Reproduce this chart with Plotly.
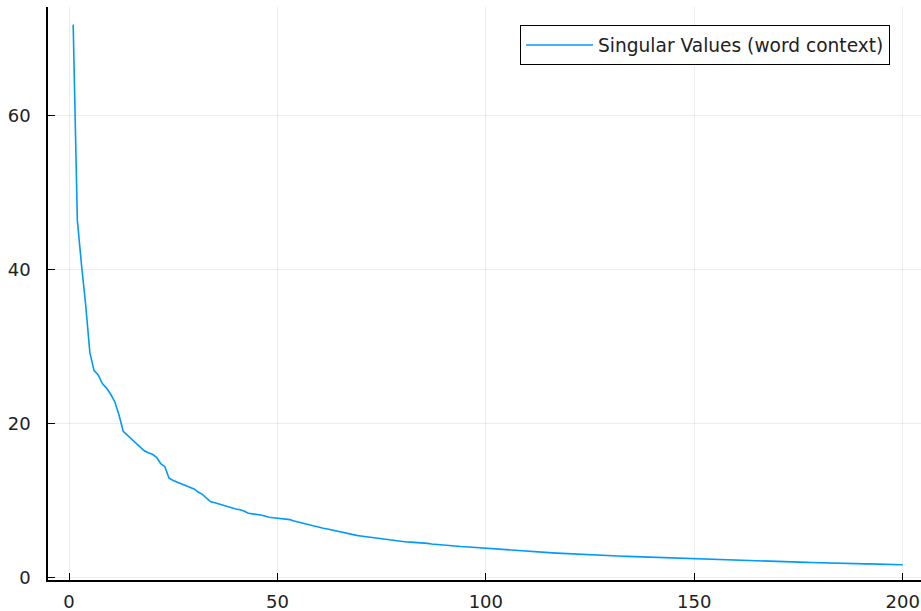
import plotly.graph_objects as go

# Singular values, index 1..200
sv_index = list(range(1, 201))
sv_values = [
    71.8, 46.4, 40.6, 35.4, 29.2, 26.9, 26.3, 25.2, 24.6, 23.8,
    22.8, 21.1, 19.0, 18.5, 17.9, 17.4, 16.9, 16.5, 16.2, 16.0,
    15.6, 14.8, 14.4, 12.9, 12.6, 12.4, 12.1, 11.9, 11.8, 11.5,
    11.1, 10.8, 10.3, 9.84, 9.71, 9.55, 9.38, 9.19, 9.06, 8.90,
    8.81, 8.64, 8.34, 8.29, 8.25, 8.12, 7.99, 7.82, 7.77, 7.73,
    7.64, 7.60, 7.52, 7.35, 7.20, 7.10, 6.98, 6.85, 6.66, 6.50,
    6.40, 6.30, 6.18, 6.05, 5.90, 5.80, 5.72, 5.60, 5.48, 5.40,
    5.33, 5.26, 5.18, 5.08, 5.00, 4.95, 4.88, 4.80, 4.70, 4.65,
    4.62, 4.60, 4.57, 4.55, 4.52, 4.44, 4.36, 4.30, 4.24, 4.18,
    4.15, 4.11, 4.07, 4.03, 4.00, 3.96, 3.92, 3.88, 3.83, 3.79,
    3.75, 3.71, 3.67, 3.63, 3.58, 3.54, 3.50, 3.45, 3.40, 3.35,
    3.32, 3.30, 3.28, 3.25, 3.22, 3.20, 3.17, 3.14, 3.11, 3.09,
    3.06, 3.04, 3.01, 2.98, 2.96, 2.94, 2.91, 2.88, 2.86, 2.83,
    2.81, 2.79, 2.77, 2.75, 2.73, 2.71, 2.69, 2.66, 2.64, 2.62,
    2.60, 2.58, 2.56, 2.53, 2.51, 2.49, 2.47, 2.45, 2.42, 2.40,
    2.39, 2.37, 2.36, 2.35, 2.34, 2.32, 2.31, 2.30, 2.28, 2.27,
    2.25, 2.24, 2.22, 2.20, 2.19, 2.17, 2.15, 2.13, 2.12, 2.10,
    2.08, 2.06, 2.04, 2.03, 2.01, 1.99, 1.97, 1.96, 1.94, 1.92,
    1.91, 1.90, 1.88, 1.87, 1.86, 1.84, 1.83, 1.82, 1.80, 1.79,
    1.78, 1.77, 1.75, 1.74, 1.73, 1.72, 1.70, 1.69, 1.68, 1.66,
]
series_name = "Singular Values (word context)"
x_ticks = [0, 50, 100, 150, 200]
y_ticks = [0, 20, 40, 60]

FONT = "DejaVu Sans"

fig = go.Figure()
fig.add_trace(go.Scatter(
    x=sv_index, y=sv_values, mode="lines", name=series_name,
    line=dict(color="#009AFA", width=1.6),
))

axis_common = dict(
    showgrid=True, gridcolor="rgba(0,0,0,0.07)", gridwidth=1,
    zeroline=False, showline=True, linecolor="black", linewidth=1.5,
    ticks="inside", ticklen=7, tickwidth=1.3, tickcolor="black",
    tickfont=dict(family=FONT, size=18, color="#222222"),
    mirror=False, automargin=False,
)

fig.update_layout(
    width=921, height=611,
    margin=dict(l=48, r=0, t=7, b=31),
    paper_bgcolor="white", plot_bgcolor="white",
    font=dict(family=FONT, size=18, color="black"),
    showlegend=True,
    legend=dict(
        x=0.9645, y=0.968, xanchor="right", yanchor="top",
        bgcolor="white", bordercolor="black", borderwidth=1,
        itemwidth=67,
        font=dict(family=FONT, size=18.6, color="#222222"),
    ),
    xaxis=dict(range=[-5.04, 204.4], tickvals=x_ticks, ticklabelstandoff=5, **axis_common),
    yaxis=dict(range=[-0.32, 74.09], tickvals=y_ticks, ticklabelstandoff=12, **axis_common),
)

fig.write_html(
    "out.html",
    config={"displayModeBar": False},
    post_script="document.body.style.margin='0';document.body.style.overflow='hidden';",
)
